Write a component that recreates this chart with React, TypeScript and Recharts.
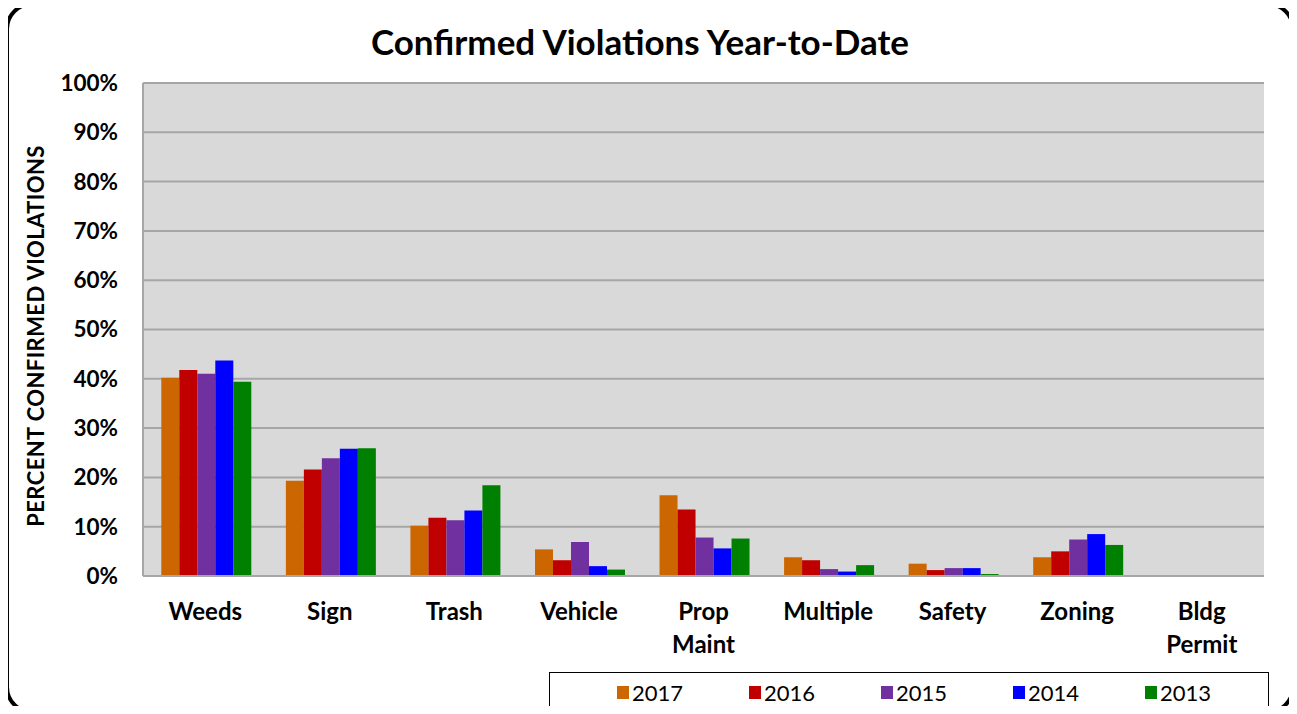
import { Bar, BarChart, CartesianGrid, XAxis, YAxis } from "recharts";

const categories = [
  "Weeds",
  "Sign",
  "Trash",
  "Vehicle",
  "Prop\nMaint",
  "Multiple",
  "Safety",
  "Zoning",
  "Bldg\nPermit",
];

const v2017 = [40.2, 19.3, 10.2, 5.4, 16.4, 3.8, 2.5, 3.8, 0];
const v2016 = [41.8, 21.6, 11.8, 3.2, 13.5, 3.2, 1.2, 5.0, 0];
const v2015 = [41.0, 23.9, 11.3, 6.9, 7.8, 1.4, 1.6, 7.4, 0];
const v2014 = [43.7, 25.8, 13.3, 2.0, 5.6, 0.9, 1.6, 8.5, 0];
const v2013 = [39.4, 25.9, 18.4, 1.3, 7.6, 2.2, 0.4, 6.3, 0];

const yTicks = [0, 10, 20, 30, 40, 50, 60, 70, 80, 90, 100];

const seriesList = [
  { key: "y2017", name: "2017", color: "#CC6600" },
  { key: "y2016", name: "2016", color: "#C00000" },
  { key: "y2015", name: "2015", color: "#7030A0" },
  { key: "y2014", name: "2014", color: "#0000FF" },
  { key: "y2013", name: "2013", color: "#008000" },
];

const data = categories.map((c, i) => ({
  name: c,
  y2017: v2017[i],
  y2016: v2016[i],
  y2015: v2015[i],
  y2014: v2014[i],
  y2013: v2013[i],
}));

const FONT = "Lato, 'Open Sans', sans-serif";

function CategoryTick(props: any) {
  const { x, y, payload } = props;
  const lines = String(payload.value).split("\n");
  return (
    <text
      x={x}
      y={y}
      textAnchor="middle"
      fill="#000"
      fontSize={24}
      fontWeight={700}
      fontFamily={FONT}
    >
      {lines.map((line, i) => (
        <tspan key={i} x={x} dy={i === 0 ? 42 : 33}>
          {line}
        </tspan>
      ))}
    </text>
  );
}

export default function App() {
  return (
    <div
      style={{
        position: "relative",
        width: 1297,
        height: 714,
        margin: -8,
        overflow: "hidden",
        background: "#fff",
        fontFamily: FONT,
      }}
    >
      <div
        style={{
          position: "absolute",
          left: 0,
          width: 1280,
          top: 20,
          textAlign: "center",
          fontSize: 35,
          fontWeight: 700,
          color: "#000",
        }}
      >
        Confirmed Violations Year-to-Date
      </div>
      <div
        style={{
          position: "absolute",
          left: 35,
          top: 336,
          transform: "translate(-50%, -50%) rotate(-90deg)",
          whiteSpace: "nowrap",
          fontSize: 22,
          letterSpacing: 0.4,
          fontWeight: 700,
          color: "#000",
        }}
      >
        PERCENT CONFIRMED VIOLATIONS
      </div>
      <div style={{ position: "absolute", left: 0, top: 0 }}>
        <BarChart
          width={1297}
          height={714}
          data={data}
          margin={{ top: 83, right: 33, left: 83, bottom: 58 }}
          barCategoryGap="14.7%"
          barGap={0}
        >
          <CartesianGrid
            vertical={false}
            fill="#D9D9D9"
            stroke="#A6A6A6"
            strokeWidth={2}
          />
          <XAxis
            dataKey="name"
            height={80}
            interval={0}
            tickLine={false}
            tickSize={0}
            axisLine={{ stroke: "#A6A6A6", strokeWidth: 2 }}
            tick={<CategoryTick />}
          />
          <YAxis
            width={60}
            domain={[0, 100]}
            ticks={yTicks}
            interval={0}
            tickLine={false}
            tickSize={0}
            tickMargin={25}
            axisLine={{ stroke: "#A6A6A6", strokeWidth: 2 }}
            tickFormatter={(v) => `${v}%`}
            tick={{ fill: "#000", fontSize: 22.5, fontWeight: 700, fontFamily: FONT }}
          />
          {seriesList.map((s) => (
            <Bar
              key={s.key}
              dataKey={s.key}
              name={s.name}
              fill={s.color}
              isAnimationActive={false}
            />
          ))}
        </BarChart>
      </div>
      <svg
        width={1297}
        height={714}
        style={{ position: "absolute", left: 0, top: 0, pointerEvents: "none" }}
      >
        <rect
          x={7}
          y={4}
          width={1286}
          height={708}
          rx={25}
          ry={25}
          fill="none"
          stroke="#000"
          strokeWidth={4}
        />
      </svg>
      <div
        style={{
          position: "absolute",
          left: 549,
          top: 672,
          width: 718,
          height: 60,
          border: "1px solid #000",
          background: "#fff",
        }}
      />
      {seriesList.map((s, i) => (
        <div
          key={s.key}
          style={{
            position: "absolute",
            left: 617 + i * 132,
            top: 679,
            display: "flex",
            alignItems: "center",
            fontSize: 22,
            color: "#000",
          }}
        >
          <span
            style={{
              display: "inline-block",
              width: 12,
              height: 13,
              background: s.color,
              marginRight: 3,
            }}
          />
          {s.name}
        </div>
      ))}
    </div>
  );
}
